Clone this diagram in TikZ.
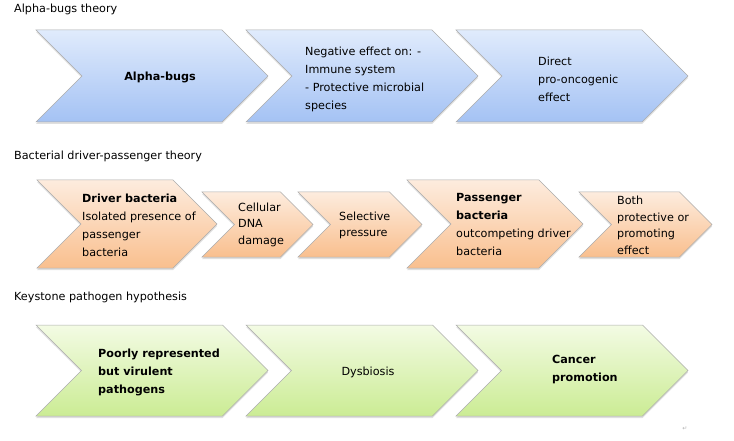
\documentclass[tikz,border=0pt]{standalone}
\usepackage{fontspec}
\setmainfont{DejaVu Sans}
\usetikzlibrary{shapes.symbols,shadows}

\definecolor{bluetop}{RGB}{224,235,252}
\definecolor{bluebot}{RGB}{164,194,244}
\definecolor{orangetop}{RGB}{253,236,222}
\definecolor{orangebot}{RGB}{249,191,142}
\definecolor{greentop}{RGB}{243,251,228}
\definecolor{greenbot}{RGB}{203,236,148}

\begin{document}
\begin{tikzpicture}[x=1pt, y=-1pt,
    chev/.style = {signal, signal to=east, signal from=west, signal pointer angle=90,
        draw=gray!65, line width=0.5pt, inner sep=0pt,
        drop shadow={opacity=0.25, shadow xshift=0pt, shadow yshift=-2pt}},
    alphabox/.style = {chev, top color=bluetop, bottom color=bluebot},
    driverbox/.style = {chev, top color=orangetop, bottom color=orangebot},
    keybox/.style = {chev, top color=greentop, bottom color=greenbot},
    txt/.style = {anchor=west, align=left, inner sep=0pt, font=\fontsize{11.2}{18}\selectfont},
    txtsmall/.style = {txt, font=\fontsize{11.2}{16.5}\selectfont},
    title/.style = {anchor=west, inner sep=0pt, font=\fontsize{11.2}{13}\selectfont}]
    \useasboundingbox (0,0) rectangle (734,441);

    % Alpha-bugs theory
    \node[title] (t1) at (14,9) {Alpha-bugs theory};
    \node[alphabox, minimum width=232, minimum height=92] (a1) at (152,76) {};
    \node[alphabox, minimum width=232, minimum height=92] (a2) at (362,76) {};
    \node[alphabox, minimum width=232, minimum height=92] (a3) at (572,76) {};
    \node[txt, anchor=center] (a1t) at (160,77) {\textbf{Alpha-bugs}};
    \node[txt] (a2t) at (305,79) {Negative effect on: -\\Immune system\\- Protective microbial\\species};
    \node[txt] (a3t) at (538,79) {Direct\\pro-oncogenic\\effect};

    % Bacterial driver-passenger theory
    \node[title] (t2) at (14,156) {Bacterial driver-passenger theory};
    \node[driverbox, minimum width=180, minimum height=88] (d1) at (127,224) {};
    \node[driverbox, minimum width=111, minimum height=65] (d2) at (257.5,224.5) {};
    \node[driverbox, minimum width=124, minimum height=65] (d3) at (360,224.5) {};
    \node[driverbox, minimum width=176, minimum height=88] (d4) at (495,224) {};
    \node[driverbox, minimum width=133, minimum height=65] (d5) at (645.5,224.5) {};
    \node[txt] (d1t) at (82,225.5) {\textbf{Driver bacteria}\\Isolated presence of\\passenger\\bacteria};
    \node[txtsmall] (d2t) at (238,224.5) {Cellular\\DNA\\damage};
    \node[txtsmall] (d3t) at (339,225.5) {Selective\\pressure};
    \node[txt] (d4t) at (456,224.5) {\textbf{Passenger}\\\textbf{bacteria}\\outcompeting driver\\bacteria};
    \node[txtsmall] (d5t) at (617,225.5) {Both\\protective or\\promoting\\effect};

    % Keystone pathogen hypothesis
    \node[title] (t3) at (14,297) {Keystone pathogen hypothesis};
    \node[keybox, minimum width=232, minimum height=91] (k1) at (152,370.5) {};
    \node[keybox, minimum width=232, minimum height=91] (k2) at (362,370.5) {};
    \node[keybox, minimum width=232, minimum height=91] (k3) at (572,370.5) {};
    \node[txt] (k1t) at (98,372.5) {\textbf{Poorly represented}\\\textbf{but virulent}\\\textbf{pathogens}};
    \node[txt, anchor=center] (k2t) at (368,372) {Dysbiosis};
    \node[txt] (k3t) at (552,369.5) {\textbf{Cancer}\\\textbf{promotion}};

    \node[inner sep=0pt, text=gray!60, font=\fontsize{6}{6}\selectfont] (mark) at (685,429) {↵};
\end{tikzpicture}
\end{document}
